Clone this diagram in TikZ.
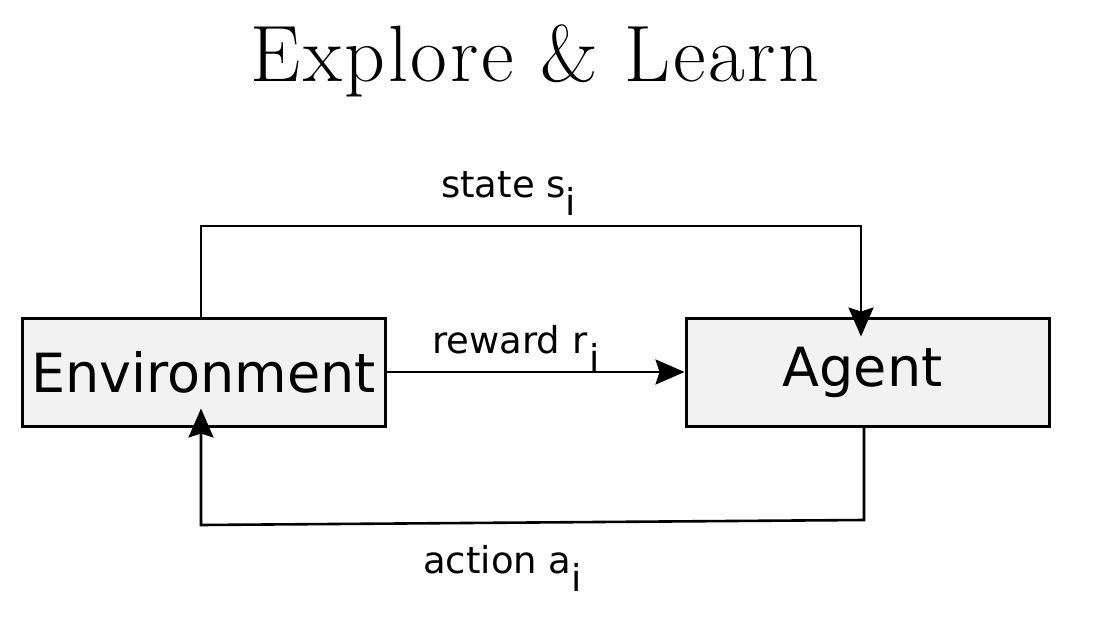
\documentclass[tikz,border=0pt]{standalone}
\usepackage{fontspec}
\setmainfont{Latin Modern Roman}
\newfontfamily\labelfont{DejaVu Sans}
\usetikzlibrary{arrows.meta}
\definecolor{boxfill}{HTML}{F2F2F2}
\tikzset{
  box/.style={draw=black, line width=3pt, fill=boxfill, minimum width=363pt, minimum height=108pt, inner sep=0pt, font=\labelfont\fontsize{54}{58}\selectfont},
  lbl/.style={font=\labelfont\fontsize{37}{40}\selectfont, inner sep=0pt, anchor=base west},
  conn/.style={draw=black, line width=2.6pt, -{Stealth[length=29pt, width=25pt, inset=4pt]}},
}
\newcommand{\lowsub}[1]{\raisebox{-18.5pt}{#1}}
\begin{document}
\begin{tikzpicture}[x=1pt, y=-1pt]
\useasboundingbox (0,0) rectangle (1098,623);
\node[font=\fontsize{80}{84}\selectfont\addfontfeature{LetterSpace=3.3}, anchor=base, inner sep=0pt] (title) at (535,82) {Explore \& Learn};
\node[box] (env) at (203.5,372) {Environment};
\node[box] (agent) at (867.5,372) {\hspace*{-10pt}Agent};
\node[lbl] (state) at (441,197) {state s\lowsub{i}};
\node[lbl] (reward) at (432,353) {reward r\hspace{2pt}\lowsub{i}};
\node[lbl] (action) at (423,573) {action a\lowsub{i}};
\draw[conn] ([xshift=-2.5pt]env.north) -- (201,226) -- (861,226) -- ([xshift=-6.5pt,yshift=-20pt]agent.north);
\draw[conn] (env.east) -- (agent.west);
\draw[conn] ([xshift=-3.5pt]agent.south) -- (864,520) -- (201,525) -- ([xshift=-2.5pt,yshift=19pt]env.south);
\end{tikzpicture}
\end{document}
